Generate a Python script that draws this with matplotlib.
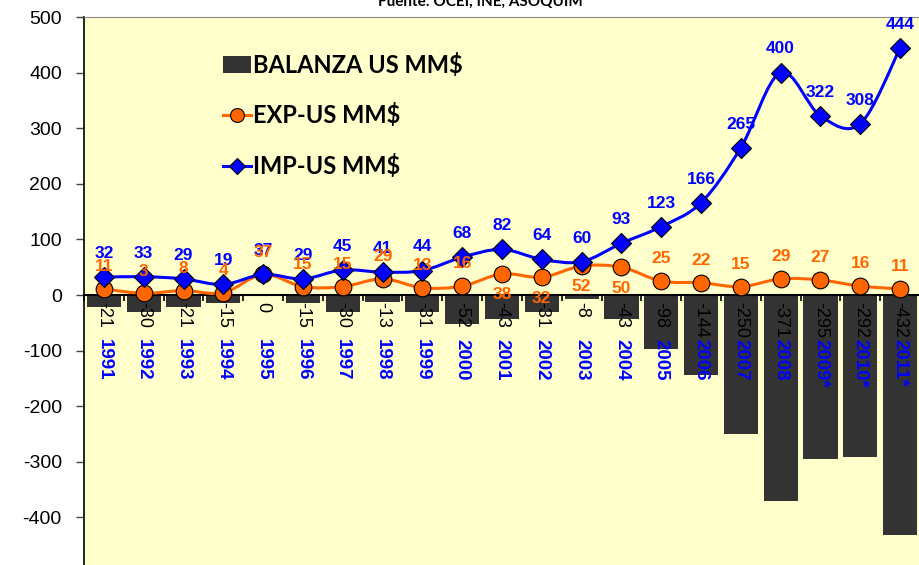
import matplotlib
matplotlib.use("Agg")
import matplotlib.pyplot as plt
from matplotlib.path import Path
from matplotlib.patches import PathPatch
from matplotlib.lines import Line2D
from matplotlib.patches import Patch

# data
years = ["1991", "1992", "1993", "1994", "1995", "1996", "1997", "1998", "1999", "2000",
         "2001", "2002", "2003", "2004", "2005", "2006", "2007", "2008", "2009*", "2010*", "2011*"]
imp = [32, 33, 29, 19, 37, 29, 45, 41, 44, 68, 82, 64, 60, 93, 123, 166, 265, 400, 322, 308, 444]
exp = [11, 3, 8, 4, 37, 15, 15, 29, 13, 16, 38, 32, 52, 50, 25, 22, 15, 29, 27, 16, 11]
balanza = [-21, -30, -21, -15, 0, -15, -30, -13, -31, -52, -43, -31, -8, -43, -98, -144,
           -250, -371, -295, -292, -432]

# EXP labels that sit under the marker
exp_below = ["2001", "2002", "2003", "2004"]

BG = "#FFFFCC"
BAR = "#333333"
ORANGE = "#FF6600"
BLUE = "#0000FF"
FONT = "Liberation Sans"

plt.rcParams["axes.unicode_minus"] = False


def smooth_path(xs, ys):
    # excel style smoothed line: catmull-rom turned into cubic bezier segments
    pts = list(zip(xs, ys))
    verts = [pts[0]]
    codes = [Path.MOVETO]
    for i in range(len(pts) - 1):
        p0 = pts[i - 1] if i > 0 else pts[i]
        p1 = pts[i]
        p2 = pts[i + 1]
        p3 = pts[i + 2] if i + 2 < len(pts) else pts[i + 1]
        c1 = (p1[0] + (p2[0] - p0[0]) / 6, p1[1] + (p2[1] - p0[1]) / 6)
        c2 = (p2[0] - (p3[0] - p1[0]) / 6, p2[1] - (p3[1] - p1[1]) / 6)
        verts += [c1, c2, p2]
        codes += [Path.CURVE4] * 3
    return Path(verts, codes)


x = list(range(len(years)))

fig = plt.figure(figsize=(9.2, 5.65), dpi=100)
ax = fig.add_axes([84 / 920, 1 - 573 / 565, 836 / 920, 556 / 565])
ax.set_facecolor(BG)

ax.bar(x, balanza, width=0.86, color=BAR, zorder=1)

ax.add_patch(PathPatch(smooth_path(x, exp), fill=False, edgecolor=ORANGE, lw=2.2, zorder=3))
ax.add_patch(PathPatch(smooth_path(x, imp), fill=False, edgecolor=BLUE, lw=2.2, zorder=3))
ax.plot(x, exp, linestyle="none", marker="o", ms=12, mfc=ORANGE, mec="black", mew=0.8, zorder=4)
ax.plot(x, imp, linestyle="none", marker="D", ms=10, mfc=BLUE, mec="black", mew=0.8, zorder=5)

# data labels
for xi, v in zip(x, imp):
    ax.annotate(str(v), (xi, v), xytext=(0, 17), textcoords="offset points",
                ha="center", va="center", color=BLUE, fontsize=12.5,
                fontweight="bold", family=FONT, zorder=6)
for xi, v, yr in zip(x, exp, years):
    dy = -15 if yr in exp_below else 16
    ax.annotate(str(v), (xi, v), xytext=(0, dy), textcoords="offset points",
                ha="center", va="center", color=ORANGE, fontsize=12.5,
                fontweight="bold", family=FONT, zorder=6)
for xi, v in zip(x, balanza):
    ax.annotate(str(v), (xi, 0), xytext=(0, -5), textcoords="offset points",
                ha="center", va="top", rotation=270, color="black", fontsize=13,
                family=FONT, zorder=6)

ax.set_xlim(-0.5, len(years) - 0.5)
ax.set_ylim(-500, 500)
ax.set_yticks(range(-500, 501, 100))
ax.tick_params(axis="y", direction="out", length=6, width=1, color="#444444", pad=10,
               labelsize=14)
for lab in ax.get_yticklabels():
    lab.set_family(FONT)

# category labels hang under the zero line
ax.spines["bottom"].set_position(("data", 0))
ax.set_xticks(x)
ax.set_xticklabels(years, rotation=270, color=BLUE, fontsize=13.5, fontweight="bold", family=FONT)
ax.set_xticks([i - 0.5 for i in range(len(years) + 1)], minor=True)
ax.tick_params(axis="x", which="major", length=0, pad=32)
ax.tick_params(axis="x", which="minor", direction="out", length=4, width=1.2)

ax.spines["left"].set_linewidth(1.2)
ax.spines["bottom"].set_linewidth(1.5)
ax.spines["top"].set_color("#888888")
ax.spines["right"].set_visible(False)

handles = [
    Patch(facecolor=BAR, edgecolor="none"),
    Line2D([], [], color=ORANGE, lw=2.2, marker="o", ms=10, mfc=ORANGE, mec="black", mew=0.8),
    Line2D([], [], color=BLUE, lw=2.2, marker="D", ms=8, mfc=BLUE, mec="black", mew=0.8),
]
ax.legend(handles, ["BALANZA US MM$", "EXP-US MM$", "IMP-US MM$"],
          loc="upper left", bbox_to_anchor=(211 / 920, 1 - 41 / 565),
          bbox_transform=fig.transFigure, frameon=False,
          prop={"family": "Lato", "weight": "bold", "size": 17},
          handlelength=1.2, handletextpad=0.1, labelspacing=1.13, borderpad=0)

fig.text(480 / 920, 1 - 6 / 565, "Fuente: OCEI, INE, ASOQUIM", ha="center", va="baseline",
         fontsize=11, fontweight="bold", family="Lato")

fig.savefig("out.png", dpi=100, facecolor="white")
